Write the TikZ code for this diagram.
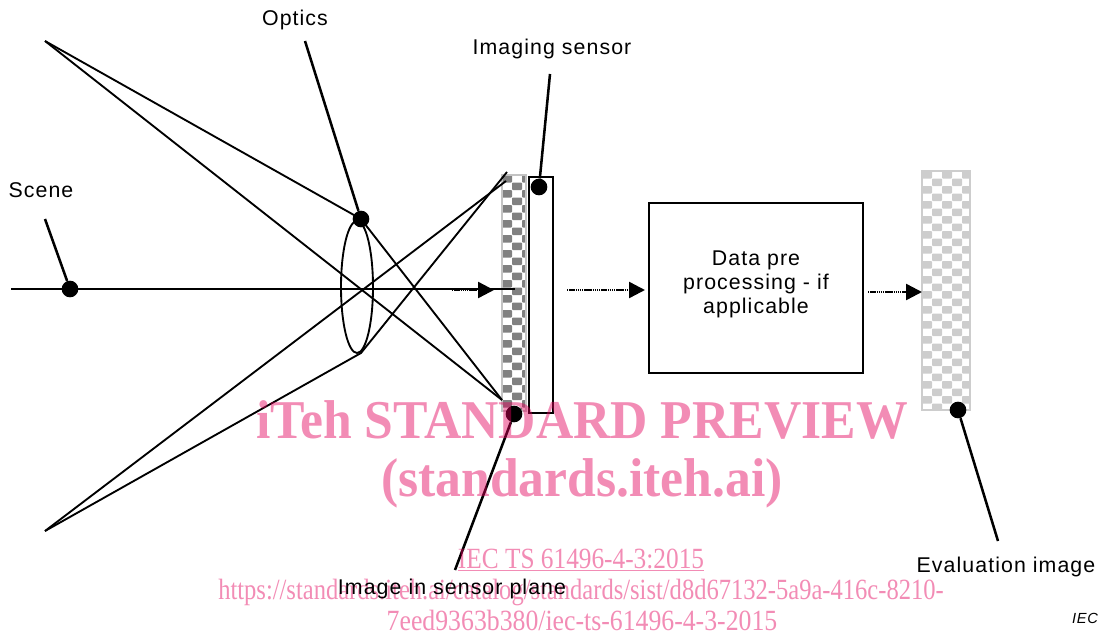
\documentclass[tikz,border=0pt]{standalone}
\usepackage{fontspec}
\usepackage{xcolor}
\setmainfont{Liberation Serif}
\newfontfamily\labelfont[LetterSpace=5]{Liberation Sans}
\usetikzlibrary{arrows.meta, positioning, shapes.geometric}
\definecolor{markpink}{RGB}{227,0,91}
\definecolor{imagegrey}{RGB}{128,128,128}
\definecolor{evalgrey}{RGB}{205,205,205}
\definecolor{edgegrey}{RGB}{195,195,195}
\newcommand{\chequer}[5]{%
  \begin{scope}
    \clip (#1,#2) rectangle (#3,#4);
    \foreach \row in {0,...,32} {
      \foreach \col in {0,...,5} {
        \pgfmathtruncatemacro{\odd}{mod(\row+\col,2)}
        \ifnum\odd=0
          \fill[#5, rounded corners=0.6pt] ({#1+\col*10},{#2+\row*7.5}) rectangle ++(10,7.5);
        \fi
      }
    }
  \end{scope}}
\tikzset{
  ray/.style={line width=1.4pt},
  leader/.style={line width=1.9pt},
  dot/.style={circle, fill=black, inner sep=0pt, minimum size=12.5pt},
  flow/.style={line width=1.8pt, dash pattern=on 1.1pt off 0.5pt, -{Triangle[length=12pt,width=12pt]}},
  labeltext/.style={font=\labelfont\fontsize{16}{18}\selectfont, inner sep=0pt},
  stripbox/.style={rectangle, inner sep=0pt},
  blackbox/.style={rectangle, draw=black, line width=1.6pt, inner sep=0pt},
  markbig/.style={font=\bfseries\fontsize{41}{44}\selectfont, text=markpink, text opacity=0.45, inner sep=0pt, transform shape, xscale=0.945},
  marksmall/.style={font=\fontsize{22}{24}\selectfont, text=markpink, text opacity=0.45, inner sep=0pt, transform shape}
}
\begin{document}
\begin{tikzpicture}[x=0.75pt, y=-0.75pt, >=Stealth]
    \useasboundingbox (0,0) rectangle (1102,635);

    % Image strips
    \chequer{502}{175}{526}{411}{imagegrey}
    \node[stripbox, draw=edgegrey, line width=1.4pt, minimum width=18pt, minimum height=177pt] (sensorimage) at (514,293) {};
    \chequer{922}{171}{970}{410}{evalgrey}
    \node[stripbox, draw=evalgrey, line width=1.6pt, minimum width=36pt, minimum height=179pt] (evalimage) at (946,290.5) {};

    % Sensor and pre-processing boxes
    \node[blackbox, line width=2.1pt, minimum width=18pt, minimum height=177pt] (sensor) at (541,295) {};
    \node[blackbox, minimum width=160.5pt, minimum height=127.5pt] (databox) at (756,288) {};
    \node[labeltext, align=center] (datatext) at (756,284.5) {Data pre\\processing - if\\applicable};

    % Lens
    \node[draw, ellipse, line width=1.4pt, inner sep=0pt, minimum width=24pt, minimum height=99pt] (lens) at (357,287) {};

    % Rays
    \coordinate (farup) at (45,41);
    \coordinate (fardown) at (45,531);
    \coordinate (lenstop) at (361,219);
    \coordinate (lensbottom) at (361,353);
    \coordinate (fochigh) at (507,172);
    \coordinate (focmid) at (506,181);
    \coordinate (foclow) at (502,400);
    \draw[ray] (farup) -- (lenstop) -- (foclow);
    \draw[ray] (farup) -- (foclow);
    \draw[ray] (fardown) -- (lensbottom) -- (fochigh);
    \draw[ray] (fardown) -- (focmid);

    % Axis
    \coordinate (axisstart) at (11,289);
    \coordinate (axisend) at (515,289);
    \draw[ray] (axisstart) -- (axisend);

    % Flow arrows
    \coordinate (flowa) at (452,290);
    \coordinate (flowb) at (494,290);
    \coordinate (flowc) at (567,290);
    \coordinate (flowd) at (645,290);
    \coordinate (flowe) at (868,292);
    \coordinate (flowf) at (922,292);
    \draw[flow] (flowa) -- (flowb);
    \draw[flow] (flowc) -- (flowd);
    \draw[flow] (flowe) -- (flowf);

    % Labels and leaders
    \node[labeltext] (scene) at (41,190) {Scene};
    \node[labeltext] (optics) at (295,19.5) {Optics};
    \node[labeltext] (imaging) at (552,48.5) {Imaging sensor};
    \node[labeltext] (evaltext) at (1006,566.5) {Evaluation image};
    \node[inner sep=0pt, font=\labelfont\itshape\fontsize{11}{13}\selectfont] (iec) at (1085,618) {IEC};

    \node[dot] (scenedot) at (70,289) {};
    \node[dot] (opticsdot) at (361,219) {};
    \node[dot] (sensordot) at (539,187) {};
    \node[dot] (planedot) at (514,414) {};
    \node[dot] (evaldot) at (958,410) {};

    \coordinate (sceneend) at (45,219);
    \coordinate (opticsend) at (305,41);
    \coordinate (sensorend) at (550,74);
    \coordinate (planeend) at (455,570);
    \coordinate (evalend) at (998,541);
    \draw[leader] (sceneend) -- (scenedot);
    \draw[leader] (opticsend) -- (opticsdot);
    \draw[leader] (sensorend) -- (sensordot);
    \draw[leader] (planeend) -- (planedot);
    \draw[leader] (evalend) -- (evaldot);

    % Watermark
    \node[markbig] (marka) at (582,420) {iTeh STANDARD PREVIEW};
    \node[markbig] (markb) at (582,483) {(standards.iteh.ai)};
    \node[marksmall, xscale=0.863] (markc) at (581,560) {\underline{IEC TS 61496-4-3:2015}};
    \node[marksmall, xscale=0.837] (markd) at (581,592.5) {https://standards.iteh.ai/catalog/standards/sist/d8d67132-5a9a-416c-8210-};
    \node[marksmall, xscale=0.878] (marke) at (582,620.5) {7eed9363b380/iec-ts-61496-4-3-2015};

    \node[labeltext] (planetext) at (452,588.5) {Image in sensor plane};
\end{tikzpicture}
\end{document}
